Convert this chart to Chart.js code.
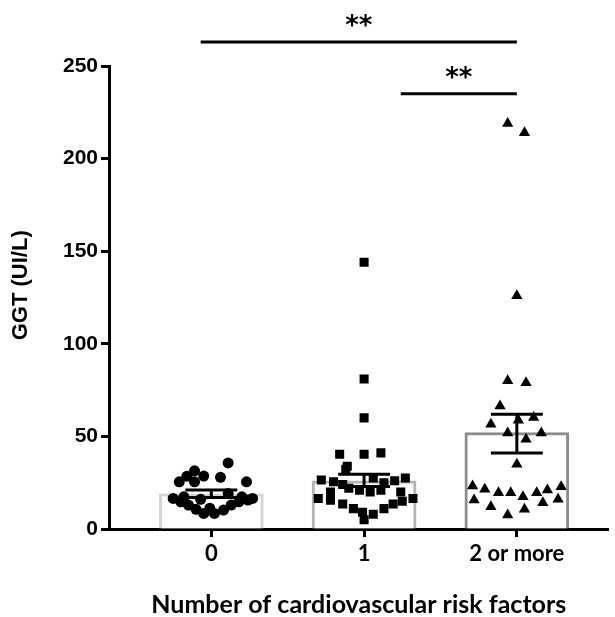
<!DOCTYPE html>
<html>
<head>
<meta charset="utf-8">
<script src="https://cdn.jsdelivr.net/npm/chart.js@4/dist/chart.umd.min.js"></script>
<style>
  html, body { margin: 0; padding: 0; background: #fff; }
  #wrap { width: 615px; height: 617px; }
</style>
</head>
<body>
<div id="wrap"><canvas id="chart"></canvas></div>
<script>
const categories = ['0', '1', '2 or more'];
const means   = [19, 26, 52];
const semLow  = [17, 23, 41];
const semHigh = [21, 29.5, 62];

// GGT values per group, with horizontal scatter offset (in category units)
const group0Values = [35.7, 31.4, 28.6, 25.5, 25.5, 27.9, 25.5, 28.5,
  16.5, 14.7, 12.9, 10.6, 8.4, 8.4, 10.2, 12.9, 14.7, 15.6, 16.5, 19.2, 16, 11.2, 17.4, 17.4];
const group0Jitter = [0.11, -0.11, -0.05, -0.11, -0.21, 0.06, 0.23, -0.16,
  -0.25, -0.20, -0.15, -0.10, -0.05, 0.02, 0.08, 0.13, 0.18, 0.24, 0.27, 0.11, -0.07, -0.01, -0.18, 0.20];

const group1Values = [144, 81, 60, 40.4, 40.4, 41.1, 33.9, 32.3,
  27.5, 27.5, 26, 25, 26.5, 25.5, 24, 21, 20, 21, 22,
  16.5, 15.5, 13.5, 11, 9, 5, 8, 11, 13.5, 15, 16.5, 20, 20];
const group1Jitter = [0, 0, 0, -0.16, 0, 0.11, -0.11, -0.12,
  0.06, 0.27, 0.20, 0.13, -0.28, -0.20, -0.14, -0.03, 0.04, 0.11, -0.10,
  -0.30, -0.22, -0.14, -0.07, -0.01, 0, 0.06, 0.13, 0.19, 0.25, 0.32, -0.22, 0.24];

const group2Values = [219, 214, 126, 80, 79, 66.4, 56.6, 58.7, 60.2, 51.9, 48.5, 51.9, 35,
  23.2, 21.4, 19.6, 19.6, 17.4, 19.6, 21, 22.8, 15.6, 12, 7.5, 10.6, 14.2, 16];
const group2Jitter = [-0.06, 0.05, 0, -0.06, 0.06, -0.11, -0.17, 0.01, 0.11, -0.06, 0.06, 0.16, 0,
  -0.29, -0.21, -0.12, -0.04, 0.04, 0.13, 0.20, 0.29, -0.28, -0.17, -0.06, 0.05, 0.17, 0.27];

// significance brackets (x in category units, y in GGT units)
const sigFrom   = [-0.07, 1.24];
const sigTo     = [2.0, 2.0];
const sigLevel  = [263, 235];
const sigLabels = ['**', '**'];

const pts = (vals, jit, i) => vals.map((v, k) => ({ x: i + jit[k], y: v }));

const capHalf = 0.17;
const errData = [];
means.forEach((m, i) => {
  errData.push(
    { x: i - capHalf, y: semHigh[i] }, { x: i + capHalf, y: semHigh[i] }, { x: i, y: null },
    { x: i, y: semHigh[i] }, { x: i, y: semLow[i] }, { x: i, y: null },
    { x: i - capHalf, y: semLow[i] }, { x: i + capHalf, y: semLow[i] }, { x: i, y: null }
  );
});

const sigPlugin = {
  id: 'sig',
  afterDraw(chart) {
    const { ctx, scales: { x, y } } = chart;
    ctx.save();
    ctx.strokeStyle = '#000';
    ctx.fillStyle = '#000';
    ctx.lineWidth = 3;
    ctx.font = 'bold 26px "DejaVu Sans"';
    ctx.textAlign = 'center';
    ctx.textBaseline = 'alphabetic';
    sigLevel.forEach((lv, k) => {
      const yy = y.getPixelForValue(lv);
      const x0 = x.getPixelForValue(sigFrom[k]);
      const x1 = x.getPixelForValue(sigTo[k]);
      ctx.beginPath();
      ctx.moveTo(x0, yy);
      ctx.lineTo(x1, yy);
      ctx.stroke();
      ctx.fillText(sigLabels[k], (x0 + x1) / 2, yy - 8);
    });
    ctx.restore();
  }
};

const ctx = document.getElementById('chart').getContext('2d');
new Chart(ctx, {
  type: 'scatter',
  data: {
    datasets: [
      {
        type: 'bar',
        data: means.map((m, i) => ({ x: i, y: m })),
        backgroundColor: '#fff',
        borderColor: ['#d4d4d4', '#b4b4b4', '#8c8c8c'],
        borderWidth: 3,
        borderSkipped: 'bottom',
        barThickness: 104,
        order: 3
      },
      { data: pts(group0Values, group0Jitter, 0), pointStyle: 'circle', pointRadius: 5.5,
        backgroundColor: '#000', borderWidth: 0, order: 2 },
      { data: pts(group1Values, group1Jitter, 1), pointStyle: 'rect', pointRadius: 6.4,
        backgroundColor: '#000', borderWidth: 0, order: 2 },
      { data: pts(group2Values, group2Jitter, 2), pointStyle: 'triangle', pointRadius: 6.5,
        backgroundColor: '#000', borderWidth: 0, order: 2 },
      { data: errData, showLine: true, spanGaps: false, borderColor: '#000', borderWidth: 3,
        pointRadius: 0, order: 1 }
    ]
  },
  options: {
    responsive: true,
    maintainAspectRatio: false,
    animation: false,
    layout: { padding: { top: 66, left: 0, right: 0, bottom: 0 } },
    plugins: { legend: { display: false }, tooltip: { enabled: false } },
    scales: {
      x: {
        type: 'linear',
        offset: false,
        min: -0.67, max: 2.6,
        afterBuildTicks: s => { s.ticks = categories.map((c, i) => ({ value: i })); },
        afterFit: s => { s.height = 88; },
        ticks: {
          autoSkip: false, maxRotation: 0, color: '#000', padding: 4,
          font: { family: 'Lato', weight: 'bold', size: 22 },
          callback: v => categories[v]
        },
        grid: { offset: false, drawOnChartArea: false, drawTicks: true, tickLength: 8, tickWidth: 3, tickColor: '#000' },
        border: { color: '#000', width: 3 },
        title: {
          display: true, text: 'Number of cardiovascular risk factors', color: '#000',
          font: { family: 'Lato', weight: 'bold', size: 25, lineHeight: 1.0 },
          padding: { top: 0, bottom: 0 }
        }
      },
      y: {
        min: 0, max: 250,
        afterFit: s => { s.width = 109; },
        ticks: {
          stepSize: 50, color: '#000', padding: 3,
          font: { family: 'Liberation Sans', weight: 'bold', size: 21 }
        },
        grid: { drawOnChartArea: false, drawTicks: true, tickLength: 8, tickWidth: 3, tickColor: '#000' },
        border: { color: '#000', width: 3 },
        title: {
          display: true, text: '    GGT (UI/L)', color: '#000',
          font: { family: 'Liberation Sans', weight: 'bold', size: 22, lineHeight: 1.2 },
          padding: { top: 8, bottom: 0 }
        }
      }
    }
  },
  plugins: [sigPlugin]
});
</script>
</body>
</html>
